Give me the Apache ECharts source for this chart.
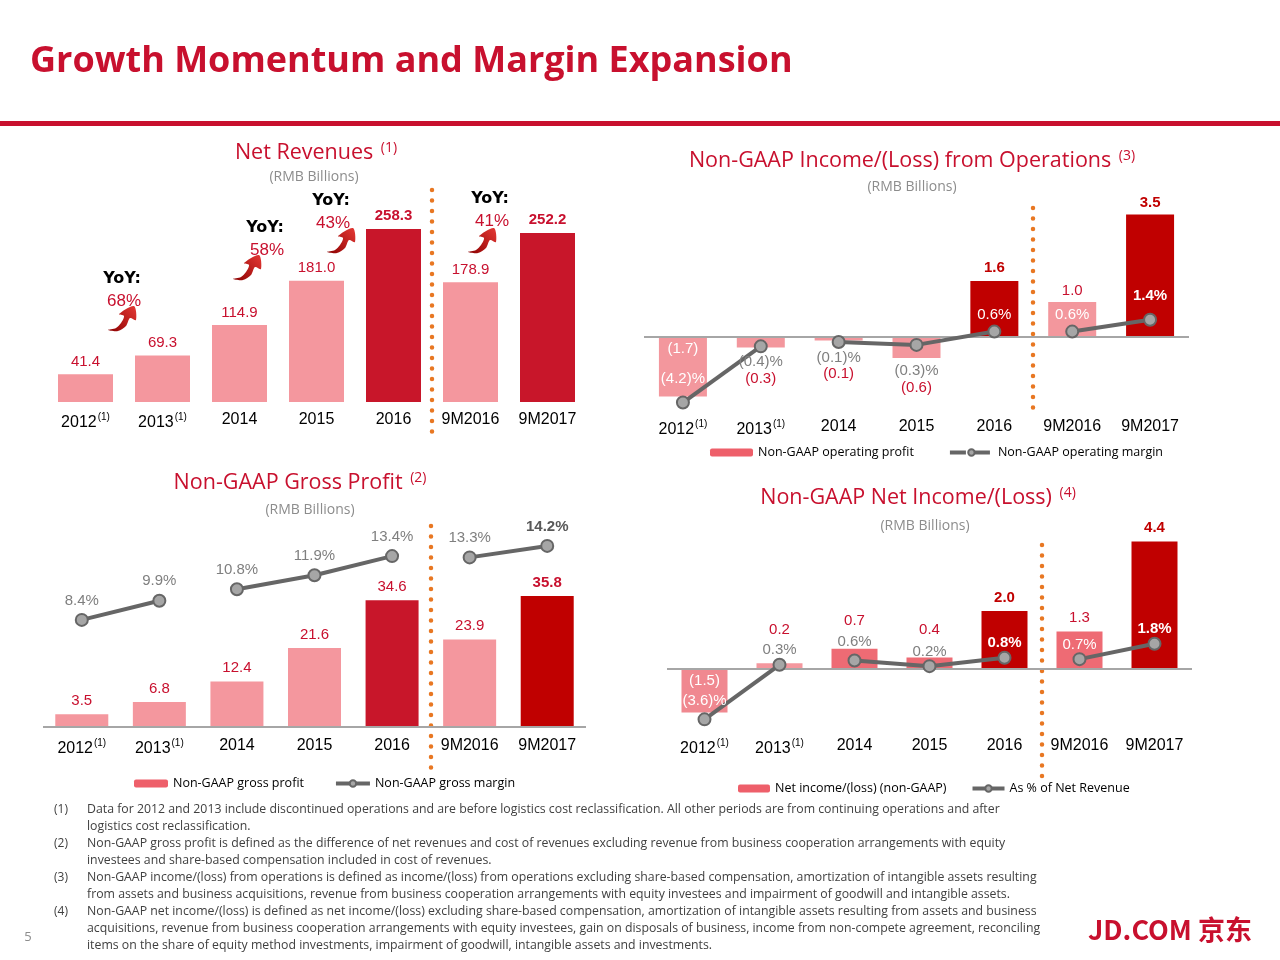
<!DOCTYPE html>
<html>
<head>
<meta charset="utf-8">
<script src="https://cdn.jsdelivr.net/npm/echarts@6/dist/echarts.min.js"></script>
<style>
  html, body { margin: 0; padding: 0; background: #fff; }
  #main { width: 1280px; height: 960px; }
</style>
</head>
<body>
<div id="main"></div>
<script>
// data
const cats = ['2012', '2013', '2014', '2015', '2016', '9M2016', '9M2017']
const revenue = [41.4, 69.3, 114.9, 181.0, 258.3, 178.9, 252.2]
const revenueYoY = ['68%', '58%', '43%', '41%']
const opIncome = [-1.7, -0.3, -0.1, -0.6, 1.6, 1.0, 3.5]
const opMargin = [-4.2, -0.4, -0.1, -0.3, 0.6, 0.6, 1.4]
const grossProfit = [3.5, 6.8, 12.4, 21.6, 34.6, 23.9, 35.8]
const grossMargin = [8.4, 9.9, 10.8, 11.9, 13.4, 13.3, 14.2]
const netIncome = [-1.5, 0.2, 0.7, 0.4, 2.0, 1.3, 4.4]
const netMargin = [-3.6, 0.3, 0.6, 0.2, 0.8, 0.7, 1.8]
const segments = [[0, 1], [2, 3, 4], [5, 6]]

const RED = '#C8102E'
const DARK = '#C00000'
const GREY = '#7F7F7F'
const WHITE = '#ffffff'
const NUM_FONT = 'Liberation Sans'
const TXT_FONT = 'Open Sans'

const fmt = (v, pct) => (v < 0 ? '(' + Math.abs(v).toFixed(1) + ')' : v.toFixed(1)) + (pct ? '%' : '')

const myChart = echarts.init(document.getElementById('main'))

// label helper: position, distance, color, bold
const lab = (p, d, c, b) => ({
  show: true, position: p, distance: d, color: c,
  fontWeight: b ? 'bold' : 'normal', fontSize: 15, fontFamily: NUM_FONT
})

// ---- layout of the four panels
const grids = [
  { left: 47, width: 539, top: 201, height: 201 },
  { left: 644, width: 545, top: 197, height: 210 },
  { left: 43, width: 543, top: 500, height: 227 },
  { left: 667, width: 525, top: 520, height: 210 }
]
const yRange = [
  [[0, 300]],
  [[-2, 4], [-4.5, 9.7]],
  [[0, 62], [0, 17.8]],
  [[-2.1, 5.14], [-4.36, 10.64]]
]
const labelMargin = [10, 12, 11, 8]

const xAxis = grids.map((g, i) => ({
  type: 'category', gridIndex: i, data: cats,
  axisTick: { show: false },
  axisLine: { show: false, onZero: false },
  axisLabel: {
    interval: 0,
    margin: labelMargin[i], color: '#000', fontSize: 16, fontFamily: NUM_FONT,
    formatter: (v, k) => k < 2 ? v + '{s|(1)}' : v,
    rich: { s: { fontSize: 10, fontFamily: NUM_FONT, padding: [0, 0, 12, 1] } }
  }
}))
const yAxis = []
const yIdx = []
yRange.forEach((rs, i) => {
  yIdx.push(yAxis.length)
  rs.forEach(r => yAxis.push({ type: 'value', gridIndex: i, min: r[0], max: r[1], show: false }))
})

const zeroLine = {
  silent: true, symbol: 'none', label: { show: false },
  lineStyle: { color: '#A6A6A6', width: 2, type: 'solid' },
  data: [{ yAxis: 0 }]
}

function barSeries(gi, name, values, colors, labels, width, withZero) {
  const s = {
    type: 'bar', name: name, xAxisIndex: gi, yAxisIndex: yIdx[gi], barWidth: width,
    itemStyle: { color: '#EE5F6A' },
    data: values.map((v, k) => ({
      value: v,
      itemStyle: { color: colors[k] },
      label: Object.assign(labels[k], { formatter: p => fmt(p.value, false) })
    })),
    z: 2
  }
  if (withZero) s.markLine = zeroLine
  return s
}

function lineSeries(gi, name, values, labels) {
  return segments.map((seg, s) => ({
    type: 'line', name: s === 0 ? name : name + ' ' + s,
    xAxisIndex: gi, yAxisIndex: yIdx[gi] + 1,
    symbol: 'circle', symbolSize: 12,
    lineStyle: { color: '#666', width: 4 },
    itemStyle: { color: '#A6A6A6', borderColor: '#666', borderWidth: 2 },
    data: values.map((v, k) => seg.includes(k) ? {
      value: v,
      label: Object.assign(labels[k], { formatter: p => fmt(p.value, true) })
    } : null),
    connectNulls: false,
    z: 5
  }))
}

const L1 = '#F4979E', D1 = '#C8162A'

const series = [
  barSeries(0, 'Net revenues', revenue, [L1, L1, L1, L1, D1, L1, D1], [
    lab('top', 5, RED), lab('top', 5, RED), lab('top', 5, RED), lab('top', 5, RED),
    lab('top', 6, RED, true), lab('top', 5, RED), lab('top', 6, RED, true)
  ], 55, false),

  barSeries(1, 'Non-GAAP operating profit', opIncome, ['#F3979D', '#F3979D', '#F3979D', '#F3979D', DARK, '#F3979D', DARK], [
    lab('insideTop', 4, WHITE), lab('bottom', 24, RED), lab('bottom', 26, RED), lab('bottom', 22, RED),
    lab('top', 6, DARK, true), lab('top', 4, RED), lab('top', 4, DARK, true)
  ], 48, true),
  ...lineSeries(1, 'Non-GAAP operating margin', opMargin, [
    lab('top', 9, WHITE), lab('bottom', 1, GREY), lab('bottom', 1, GREY), lab('bottom', 11, GREY),
    lab('top', 2, WHITE), lab('top', 2, WHITE), lab('top', 9, WHITE, true)
  ]),

  barSeries(2, 'Non-GAAP gross profit', grossProfit, [L1, L1, L1, L1, D1, L1, DARK], [
    lab('top', 6, RED), lab('top', 6, RED), lab('top', 6, RED), lab('top', 6, RED),
    lab('top', 6, RED), lab('top', 6, RED), lab('top', 6, RED, true)
  ], 53, true),
  ...lineSeries(2, 'Non-GAAP gross margin', grossMargin, [
    lab('top', 5, GREY), lab('top', 5, GREY), lab('top', 5, GREY), lab('top', 5, GREY),
    lab('top', 5, GREY), lab('top', 5, GREY), lab('top', 5, '#595959', true)
  ]),

  barSeries(3, 'Net income/(loss) (non-GAAP)', netIncome, ['#F08890', '#F4979E', '#EE6B74', '#EE6B74', DARK, '#EE6B74', DARK], [
    lab('insideTop', 4, WHITE), lab('top', 26, RED), lab('top', 20, RED), lab('top', 20, RED),
    lab('top', 6, DARK, true), lab('top', 6, RED), lab('top', 6, DARK, true)
  ], 46, true),
  ...lineSeries(3, 'As % of Net Revenue', netMargin, [
    lab('top', 4, WHITE), lab('top', 0, GREY), lab('top', 4, GREY), lab('top', 0, GREY),
    lab('top', 0, WHITE, true), lab('top', 0, WHITE), lab('top', 0, WHITE, true)
  ])
]

const legendBase = {
  itemHeight: 8,
  textStyle: { fontSize: 12.5, fontFamily: TXT_FONT, color: '#000' },
  lineStyle: { width: 4, color: '#666' },
  selectedMode: false
}
const legends = [
  Object.assign({}, legendBase, { left: 705, top: 441, itemWidth: 43, itemGap: 34,
    data: ['Non-GAAP operating profit', 'Non-GAAP operating margin'],
    lineStyle: { type: 'dashed', width: 4, color: '#666' } }),
  Object.assign({}, legendBase, { left: 129, top: 772, itemWidth: 34, itemGap: 30,
    data: ['Non-GAAP gross profit', 'Non-GAAP gross margin'] }),
  Object.assign({}, legendBase, { left: 733, top: 777, itemWidth: 32, itemGap: 24,
    data: ['Net income/(loss) (non-GAAP)', 'As % of Net Revenue'] })
]

// ---- text & decorations
const titleRich = { s: { fontSize: 14, fontFamily: TXT_FONT, fill: RED, padding: [0, 0, 10, 2] } }
function panelTitle(x, y, t, sup) {
  return { type: 'text', x: x, y: y, style: { text: t + '{s|' + sup + '}', fill: RED,
    font: '21.5px "Open Sans"', align: 'center', verticalAlign: 'middle', rich: titleRich } }
}
function sub(x, y) {
  return { type: 'text', x: x, y: y, style: { text: '(RMB Billions)', fill: '#8C8C8C',
    font: '14px "Open Sans"', align: 'center', verticalAlign: 'middle' } }
}
function dots(x, y1, y2) {
  return { type: 'line', shape: { x1: x, y1: y1, x2: x, y2: y2 },
    style: { stroke: '#E87722', lineWidth: 4.5, lineDash: [0, 10.5], lineCap: 'round' } }
}
const arrowPts = [[0, 24], [8, 22], [13, 17], [16, 10], [11, 8], [26, 0], [28, 14], [22, 12], [18, 20], [10, 25]]
function yoy(x, y, pct, ax, ay) {
  return [
    { type: 'text', x: x, y: y, style: { text: 'YoY:', fill: '#000', font: 'bold 16px "DejaVu Sans"', align: 'center', verticalAlign: 'middle' } },
    { type: 'text', x: x + 2, y: y + 22, style: { text: pct, fill: RED, font: '17px "Liberation Sans"', align: 'center', verticalAlign: 'middle' } },
    { type: 'polygon', shape: { points: arrowPts.map(p => [p[0] + ax, p[1] + ay]), smooth: 0.3 },
      style: { fill: new echarts.graphic.LinearGradient(0, 1, 1, 0, [{ offset: 0, color: '#8B0000' }, { offset: 1, color: '#E53935' }]) } }
  ]
}

const notes = [
  ['(1)', 'Data for 2012 and 2013 include discontinued operations and are before logistics cost reclassification. All other periods are from continuing operations and after\nlogistics cost reclassification.'],
  ['(2)', 'Non-GAAP gross profit is defined as the difference of net revenues and cost of revenues excluding revenue from business cooperation arrangements with equity\ninvestees and share-based compensation included in cost of revenues.'],
  ['(3)', 'Non-GAAP income/(loss) from operations is defined as income/(loss) from operations excluding share-based compensation, amortization of intangible assets resulting\nfrom assets and business acquisitions, revenue from business cooperation arrangements with equity investees and impairment of goodwill and intangible assets.'],
  ['(4)', 'Non-GAAP net income/(loss) is defined as net income/(loss) excluding share-based compensation, amortization of intangible assets resulting from assets and business\nacquisitions, revenue from business cooperation arrangements with equity investees, gain on disposals of business, income from non-compete agreement, reconciling\nitems on the share of equity method investments, impairment of goodwill, intangible assets and investments.']
]
const noteEls = []
let ny = 801
notes.forEach(n => {
  noteEls.push({ type: 'text', x: 54, y: ny, style: { text: n[0], fill: '#404040', font: '12px "Open Sans"', lineHeight: 17 } })
  noteEls.push({ type: 'text', x: 87, y: ny, style: { text: n[1], fill: '#404040', font: '12.3px "Open Sans"', lineHeight: 17 } })
  ny += 17 * n[1].split('\n').length
})

const graphic = [
  { type: 'text', x: 30, y: 62, style: { text: 'Growth Momentum and Margin Expansion', fill: RED,
    font: 'bold 36px "Open Sans"', verticalAlign: 'middle' } },
  { type: 'rect', shape: { x: 0, y: 121, width: 1280, height: 5 }, style: { fill: RED } },
  panelTitle(316, 153, 'Net Revenues ', '(1)'), sub(314, 177),
  panelTitle(912, 161, 'Non-GAAP Income/(Loss) from Operations ', '(3)'), sub(912, 187),
  panelTitle(300, 483, 'Non-GAAP Gross Profit ', '(2)'), sub(310, 510),
  panelTitle(918, 498, 'Non-GAAP Net Income/(Loss) ', '(4)'), sub(925, 526),
  dots(432, 190, 442), dots(1033, 208, 414), dots(431, 526, 776), dots(1042, 545, 780),
  ...yoy(122, 279, revenueYoY[0], 108, 306),
  ...yoy(265, 228, revenueYoY[1], 233, 255),
  ...yoy(331, 201, revenueYoY[2], 327, 228),
  ...yoy(490, 199, revenueYoY[3], 468, 228),
  ...noteEls,
  { type: 'text', x: 28, y: 937, style: { text: '5', fill: '#8C8C8C', font: '13px "Open Sans"', align: 'center', verticalAlign: 'middle' } },
  { type: 'text', x: 1252, y: 930, style: { text: 'JD.COM 京东', fill: RED, font: 'bold 27px "Noto Sans CJK SC"', align: 'right', verticalAlign: 'middle' } }
]

const option = {
  animation: false,
  backgroundColor: '#fff',
  grid: grids,
  xAxis: xAxis,
  yAxis: yAxis,
  legend: legends,
  series: series,
  graphic: graphic
}
myChart.setOption(option)
</script>
</body>
</html>
